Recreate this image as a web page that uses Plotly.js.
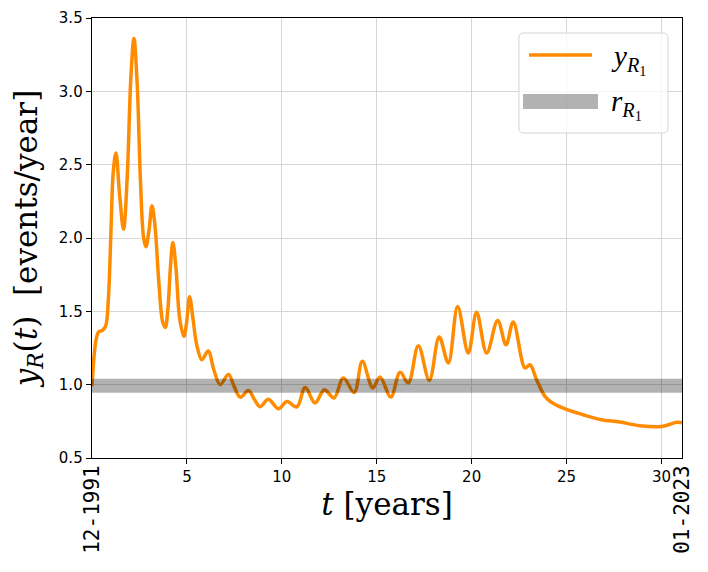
<!DOCTYPE html>
<html>
<head>
<meta charset="utf-8">
<script src="https://cdn.plot.ly/plotly-3.0.1.min.js"></script>
<style>
  html, body { margin: 0; padding: 0; background: #fff; }
  #chart { width: 708px; height: 572px; }
</style>
</head>
<body>
<div id="chart"></div>
<script>
// time since 12-1991 (years) and smoothed rate y_R1(t) (events/year)
const tYears = [
  0.00, 0.10, 0.22, 0.35, 0.55, 0.72, 0.86, 1.00, 1.12, 1.26,
  1.45, 1.66, 1.85, 2.05, 2.21, 2.38, 2.55, 2.72, 2.84, 3.00,
  3.16, 3.32, 3.52, 3.72, 3.86, 4.00, 4.13, 4.26, 4.42, 4.62,
  4.84, 4.98, 5.14, 5.32, 5.52, 5.79, 6.12, 6.42, 6.75, 7.19,
  7.48, 7.81, 8.24, 8.55, 8.86, 9.29, 9.82, 10.26, 10.79, 11.23,
  11.75, 12.24, 12.75, 13.24, 13.81, 14.24, 14.79, 15.17, 15.74, 16.23,
  16.66, 17.19, 17.77, 18.29, 18.77, 19.26, 19.82, 20.26, 20.79, 21.37,
  21.81, 22.19, 22.81, 23.07, 23.42, 23.86, 24.20, 24.82, 25.87, 26.84,
  27.80, 28.85, 30.00, 30.45, 30.79, 31.08
];
const yRate = [
  0.99, 1.18, 1.31, 1.36, 1.37, 1.40, 1.58, 2.05, 2.45, 2.58,
  2.30, 2.06, 2.40, 3.10, 3.36, 3.05, 2.40, 2.00, 1.94, 2.05,
  2.22, 2.08, 1.70, 1.43, 1.39, 1.52, 1.80, 1.97, 1.80, 1.45,
  1.33, 1.42, 1.60, 1.45, 1.27, 1.17, 1.23, 1.10, 1.00, 1.07,
  0.99, 0.915, 0.96, 0.90, 0.85, 0.90, 0.835, 0.886, 0.848, 0.98,
  0.875, 0.966, 0.909, 1.045, 0.947, 1.159, 0.977, 1.052, 0.916, 1.084,
  1.011, 1.265, 1.029, 1.325, 1.148, 1.533, 1.216, 1.493, 1.216, 1.438,
  1.272, 1.427, 1.114, 1.136, 1.034, 0.92, 0.88, 0.84, 0.795, 0.761,
  0.745, 0.72, 0.715, 0.73, 0.743, 0.74
];
// long-term mean rate r_R1
const rRate = 0.993;
const tSpan = [0, 31.08];

const xTicks = [5, 10, 15, 20, 25, 30];
const dateLabels = ['12-1991', '01-2023'];

const serif = 'Liberation Serif, DejaVu Serif, serif';
const titleSerif = 'DejaVu Serif, serif';
const mono = 'DejaVu Sans Mono, Liberation Mono, monospace';
const sans = 'DejaVu Sans, sans-serif';

const traces = [
  {
    type: 'scatter',
    mode: 'lines',
    x: tYears,
    y: yRate,
    line: { color: '#ff8c00', width: 3.5, shape: 'spline', smoothing: 1 },
    showlegend: false,
    hoverinfo: 'skip',
  },
  {
    type: 'scatter',
    mode: 'lines',
    x: tSpan,
    y: tSpan.map(() => rRate),
    line: { color: 'rgba(0,0,0,0.3)', width: 14 },
    showlegend: false,
    hoverinfo: 'skip',
  },
];

// hand-drawn legend box (paper coords)
const lx0 = 0.7237, lx1 = 0.9763, ly0 = 0.7386, ly1 = 0.9659;
const rx = 0.008, ry = 0.011;
const boxPath = `M${lx0 + rx},${ly1} L${lx1 - rx},${ly1} Q${lx1},${ly1} ${lx1},${ly1 - ry} ` +
  `L${lx1},${ly0 + ry} Q${lx1},${ly0} ${lx1 - rx},${ly0} L${lx0 + rx},${ly0} ` +
  `Q${lx0},${ly0} ${lx0},${ly0 + ry} L${lx0},${ly1 - ry} Q${lx0},${ly1} ${lx0 + rx},${ly1} Z`;

const shapes = [
  {
    type: 'path', xref: 'paper', yref: 'paper', path: boxPath, layer: 'above',
    fillcolor: 'rgba(255,255,255,0.8)', line: { color: '#d4d4d4', width: 1 },
  },
  {
    type: 'line', xref: 'paper', yref: 'paper', layer: 'above',
    x0: 0.7407, x1: 0.8475, y0: 0.9159, y1: 0.9159,
    line: { color: '#ff8c00', width: 3.5 },
  },
  {
    type: 'line', xref: 'paper', yref: 'paper', layer: 'above',
    x0: 0.7305, x1: 0.8576, y0: 0.8102, y1: 0.8102,
    line: { color: 'rgba(0,0,0,0.3)', width: 15 },
  },
];

const annotations = [
  {
    xref: 'paper', yref: 'paper', x: 0.877, y: 0.906, xanchor: 'left', yanchor: 'middle',
    text: '<i>y</i><sub><i>R</i><sub>1</sub></sub>', showarrow: false,
    font: { family: serif, size: 29, color: '#000' },
  },
  {
    xref: 'paper', yref: 'paper', x: 0.877, y: 0.803, xanchor: 'left', yanchor: 'middle',
    text: '<i>r</i><sub><i>R</i><sub>1</sub></sub>', showarrow: false,
    font: { family: serif, size: 29, color: '#000' },
  },
  {
    xref: 'x', yref: 'paper', x: tSpan[0], y: -0.012, xanchor: 'center', yanchor: 'top',
    textangle: -90, text: dateLabels[0], showarrow: false,
    font: { family: mono, size: 21, color: '#000' },
  },
  {
    xref: 'x', yref: 'paper', x: tSpan[1], y: -0.012, xanchor: 'center', yanchor: 'top',
    textangle: -90, text: dateLabels[1], showarrow: false,
    font: { family: mono, size: 21, color: '#000' },
  },
];

const axisBase = {
  showline: true,
  linecolor: '#000',
  linewidth: 1.3,
  mirror: true,
  ticks: 'outside',
  ticklen: 5,
  tickwidth: 1,
  tickcolor: '#000',
  showgrid: true,
  gridcolor: '#d6d6d6',
  gridwidth: 1,
  zeroline: false,
  tickfont: { family: sans, size: 15, color: '#000' },
};

const layout = {
  width: 708,
  height: 572,
  margin: { l: 92, r: 26, t: 18, b: 114 },
  paper_bgcolor: '#fff',
  plot_bgcolor: '#fff',
  showlegend: false,
  xaxis: {
    ...axisBase,
    range: tSpan,
    tickmode: 'array',
    tickvals: xTicks,
    title: { text: '<i>t</i>\u00a0[years]', font: { family: titleSerif, size: 31, color: '#000' }, standoff: 4 },
  },
  yaxis: {
    ...axisBase,
    range: [0.5, 3.5],
    dtick: 0.5,
    tick0: 0.5,
    tickformat: '.1f',
    title: {
      text: '<i>y</i><sub><i>R</i></sub>(<i>t</i>)\u00a0\u00a0[events/year]',
      font: { family: titleSerif, size: 31, color: '#000' },
      standoff: 12,
    },
  },
  shapes,
  annotations,
};

Plotly.newPlot('chart', traces, layout, { staticPlot: true, displayModeBar: false });
</script>
</body>
</html>
